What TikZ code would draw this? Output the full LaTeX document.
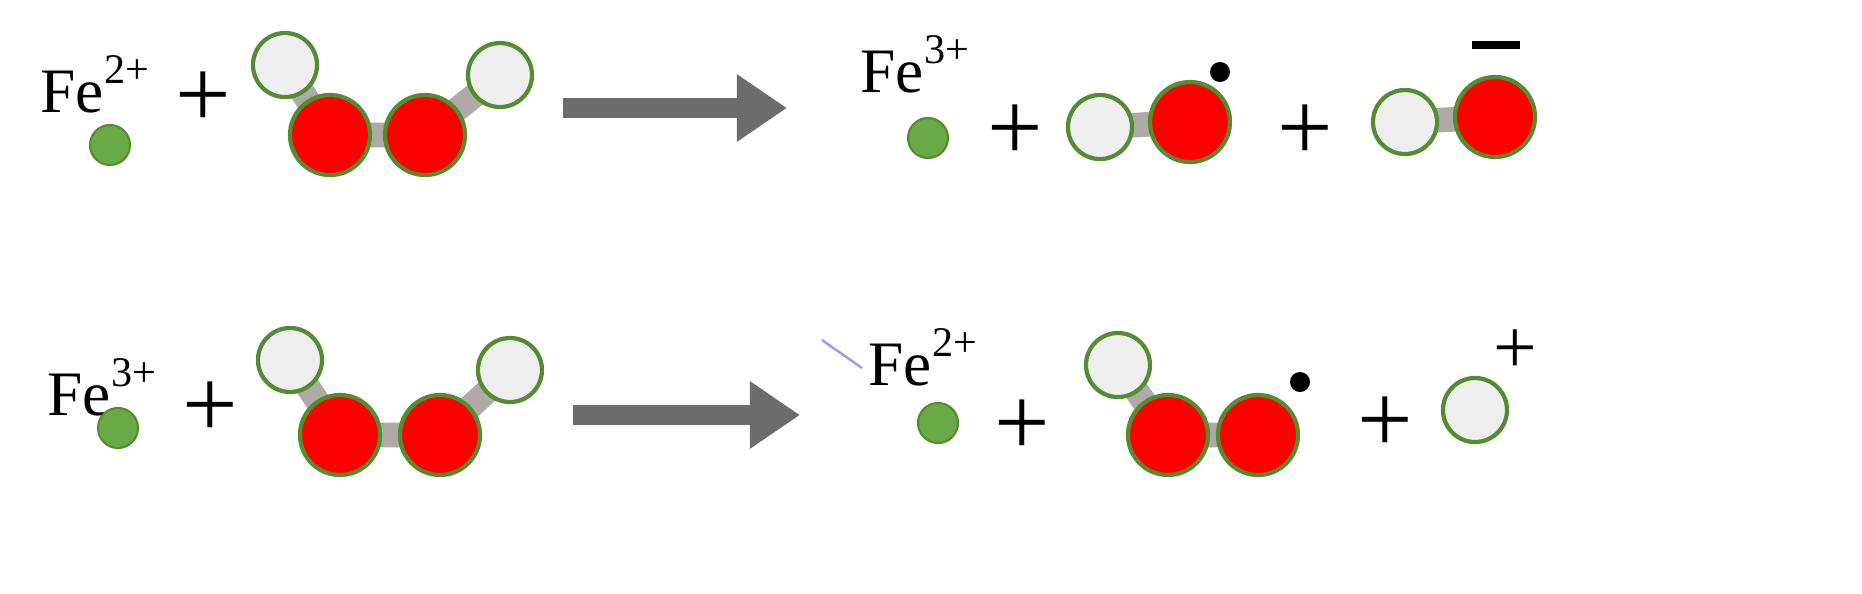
\documentclass[tikz,border=0pt]{standalone}
\usepackage{fontspec}
\setmainfont{Liberation Serif}
\usetikzlibrary{arrows.meta}
\definecolor{hgray}{RGB}{238,238,238}
\definecolor{ogreen}{RGB}{84,140,50}
\definecolor{fegreen}{RGB}{106,170,70}
\definecolor{bond}{RGB}{175,170,168}
\newcommand{\fesup}[1]{Fe\raisebox{0.45em}{\fontsize{12}{14}\selectfont #1}}
\begin{document}
\begin{tikzpicture}[x=0.01cm,y=-0.01cm,
  hatom/.style={circle,draw=ogreen,line width=1.2pt,fill=hgray,inner sep=0pt,minimum size=0.64cm},
  oatom/.style={circle,draw=ogreen,line width=1.2pt,fill=red,inner sep=0pt,minimum size=0.80cm},
  featom/.style={circle,fill=fegreen,draw=ogreen,line width=0.6pt,inner sep=0pt,minimum size=0.40cm},
  bondline/.style={bond,line width=7pt},
  lbl/.style={font=\fontsize{18}{22}\selectfont,inner sep=0pt},
  plus/.style={font=\fontsize{28}{30}\selectfont,inner sep=0pt},
  rarrow/.style={-{Triangle[length=0.5cm,width=0.64cm]},line width=0.2cm,gray!85!black}]
\useasboundingbox (0,0) rectangle (1862,593);
% top row
\node[lbl,anchor=base west] (fe1) at (40,112) {\fesup{2+}};
\node[featom] (d1) at (110,145) {};
\node[plus] (p1) at (203,100) {+};
\coordinate (h1c) at (285,65); \coordinate (o1c) at (330,135);
\coordinate (o2c) at (425,135); \coordinate (h2c) at (500,75);
\draw[bondline] (h1c)--(o1c) (o1c)--(o2c) (o2c)--(h2c);
\node[hatom] (h1) at (h1c) {}; \node[hatom] (h2) at (h2c) {};
\node[oatom] (o1) at (o1c) {}; \node[oatom] (o2) at (o2c) {};
\coordinate (a1s) at (563,108); \coordinate (a1e) at (787,108);
\draw[rarrow] (a1s)--(a1e);
\node[lbl,anchor=base west] (fe2) at (860,92) {\fesup{3+}};
\node[featom] (d2) at (928,138) {};
\node[plus] (p2) at (1015,133) {+};
\coordinate (h3c) at (1100,127); \coordinate (o3c) at (1190,122);
\draw[bondline] (h3c)--(o3c);
\node[hatom] (h3) at (h3c) {}; \node[oatom] (o3) at (o3c) {};
\node[circle,fill=black,inner sep=0pt,minimum size=0.2cm] (r1) at (1220,72) {};
\node[plus] (p3) at (1305,133) {+};
\coordinate (h4c) at (1405,122); \coordinate (o4c) at (1495,117);
\draw[bondline] (h4c)--(o4c);
\node[hatom] (h4) at (h4c) {}; \node[oatom] (o4) at (o4c) {};
\coordinate (m1) at (1472,45); \coordinate (m2) at (1520,45);
\draw[line width=2.5pt] (m1)--(m2);
% bottom row
\node[lbl,anchor=base west] (fe3) at (47,415) {\fesup{3+}};
\node[featom] (d3) at (118,428) {};
\node[plus] (p4) at (210,410) {+};
\coordinate (h5c) at (290,360); \coordinate (o5c) at (340,435);
\coordinate (o6c) at (440,435); \coordinate (h6c) at (510,370);
\draw[bondline] (h5c)--(o5c) (o5c)--(o6c) (o6c)--(h6c);
\node[hatom] (h5) at (h5c) {}; \node[hatom] (h6) at (h6c) {};
\node[oatom] (o5) at (o5c) {}; \node[oatom] (o6) at (o6c) {};
\coordinate (a2s) at (573,415); \coordinate (a2e) at (800,415);
\draw[rarrow] (a2s)--(a2e);
\coordinate (s1) at (822,340); \coordinate (s2) at (862,368);
\draw[blue!40,line width=0.7pt] (s1)--(s2);
\node[lbl,anchor=base west] (fe4) at (868,385) {\fesup{2+}};
\node[featom] (d4) at (938,423) {};
\node[plus] (p5) at (1022,428) {+};
\coordinate (h7c) at (1118,365); \coordinate (o7c) at (1168,435);
\coordinate (o8c) at (1258,435);
\draw[bondline] (h7c)--(o7c) (o7c)--(o8c);
\node[hatom] (h7) at (h7c) {};
\node[oatom] (o7) at (o7c) {}; \node[oatom] (o8) at (o8c) {};
\node[circle,fill=black,inner sep=0pt,minimum size=0.2cm] (r2) at (1300,382) {};
\node[plus] (p6) at (1385,425) {+};
\node[hatom] (h8) at (1475,410) {};
\node[font=\fontsize{22}{24}\selectfont,inner sep=0pt] (hp) at (1515,352) {+};
\end{tikzpicture}
\end{document}
